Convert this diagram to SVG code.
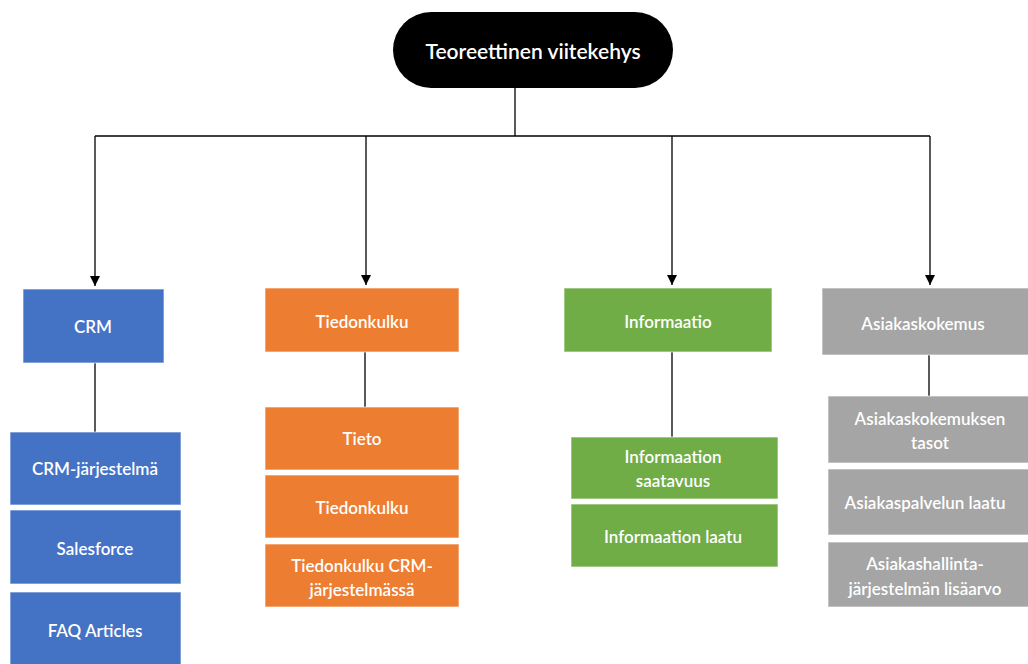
<svg xmlns="http://www.w3.org/2000/svg" width="1028" height="664" viewBox="0 0 1028 664">
  <defs>
    <marker id="arrow" viewBox="0 0 10 10" refX="10" refY="5" markerWidth="10" markerHeight="10" markerUnits="userSpaceOnUse" orient="auto">
      <path d="M0,0 L10,5 L0,10 z" fill="#000"/>
    </marker>
    <style>
      .box { stroke: #ffffff; stroke-opacity: 0.55; stroke-width: 1.2; }
      .blue { fill: #4472C4; }
      .orange { fill: #ED7D31; }
      .green { fill: #70AD47; }
      .gray { fill: #A5A5A5; }
      .lbl { font-family: Lato, "Open Sans", "Liberation Sans", sans-serif; font-size: 17px; font-weight: 600; fill: #ffffff; text-anchor: middle; dominant-baseline: central; }
      .title { font-size: 21px; }
      .line { stroke: #000; stroke-width: 1.3; fill: none; }
    </style>
  </defs>
  <rect width="1028" height="664" fill="#ffffff"/>

  <!-- connectors -->
  <g id="connectors">
    <line class="line" x1="515" y1="88" x2="515" y2="136"/>
    <line class="line" x1="95" y1="136" x2="930" y2="136"/>
    <line class="line" x1="95" y1="136" x2="95" y2="286" marker-end="url(#arrow)"/>
    <line class="line" x1="366" y1="136" x2="366" y2="285" marker-end="url(#arrow)"/>
    <line class="line" x1="672" y1="136" x2="672" y2="285" marker-end="url(#arrow)"/>
    <line class="line" x1="930" y1="136" x2="930" y2="285" marker-end="url(#arrow)"/>
    <line class="line" x1="95" y1="363" x2="95" y2="432"/>
    <line class="line" x1="365" y1="352" x2="365" y2="407"/>
    <line class="line" x1="672" y1="352" x2="672" y2="437"/>
    <line class="line" x1="929" y1="355" x2="929" y2="396"/>
  </g>

  <!-- root -->
  <g id="root">
    <rect x="393" y="12" width="280" height="76" rx="38" ry="38" fill="#000"/>
    <text class="lbl title" x="533" y="50">Teoreettinen viitekehys</text>
  </g>

  <!-- CRM branch -->
  <g id="crm">
    <rect class="box blue" x="23" y="289" width="141" height="74"/>
    <text class="lbl" x="93" y="326">CRM</text>
  </g>
  <g id="crm-jarjestelma">
    <rect class="box blue" x="10" y="432" width="171" height="73"/>
    <text class="lbl" x="95" y="468">CRM-järjestelmä</text>
  </g>
  <g id="salesforce">
    <rect class="box blue" x="10" y="510" width="171" height="74"/>
    <text class="lbl" x="95" y="548">Salesforce</text>
  </g>
  <g id="faq-articles">
    <rect class="box blue" x="10" y="592" width="171" height="80"/>
    <text class="lbl" x="95" y="630">FAQ Articles</text>
  </g>

  <!-- Tiedonkulku branch -->
  <g id="tiedonkulku">
    <rect class="box orange" x="265" y="288" width="194" height="64"/>
    <text class="lbl" x="362" y="321">Tiedonkulku</text>
  </g>
  <g id="tieto">
    <rect class="box orange" x="265" y="407" width="194" height="63"/>
    <text class="lbl" x="362" y="438">Tieto</text>
  </g>
  <g id="tiedonkulku-2">
    <rect class="box orange" x="265" y="475" width="194" height="63"/>
    <text class="lbl" x="362" y="507">Tiedonkulku</text>
  </g>
  <g id="tiedonkulku-crm">
    <rect class="box orange" x="265" y="544" width="194" height="63"/>
    <text class="lbl" x="362" y="565">Tiedonkulku CRM-</text>
    <text class="lbl" x="362" y="589">järjestelmässä</text>
  </g>

  <!-- Informaatio branch -->
  <g id="informaatio">
    <rect class="box green" x="564" y="288" width="208" height="64"/>
    <text class="lbl" x="668" y="321">Informaatio</text>
  </g>
  <g id="informaation-saatavuus">
    <rect class="box green" x="571" y="437" width="207" height="62"/>
    <text class="lbl" x="673" y="456">Informaation</text>
    <text class="lbl" x="673" y="480">saatavuus</text>
  </g>
  <g id="informaation-laatu">
    <rect class="box green" x="571" y="504" width="207" height="63"/>
    <text class="lbl" x="673" y="536">Informaation laatu</text>
  </g>

  <!-- Asiakaskokemus branch -->
  <g id="asiakaskokemus">
    <rect class="box gray" x="822" y="288" width="210" height="67"/>
    <text class="lbl" x="923" y="323">Asiakaskokemus</text>
  </g>
  <g id="asiakaskokemuksen-tasot">
    <rect class="box gray" x="828" y="396" width="204" height="67"/>
    <text class="lbl" x="930" y="418">Asiakaskokemuksen</text>
    <text class="lbl" x="930" y="442">tasot</text>
  </g>
  <g id="asiakaspalvelun-laatu">
    <rect class="box gray" x="828" y="469" width="204" height="66"/>
    <text class="lbl" x="925" y="502">Asiakaspalvelun laatu</text>
  </g>
  <g id="asiakashallinta">
    <rect class="box gray" x="828" y="542" width="204" height="65"/>
    <text class="lbl" x="925" y="563">Asiakashallinta-</text>
    <text class="lbl" x="925" y="588">järjestelmän lisäarvo</text>
  </g>
</svg>
